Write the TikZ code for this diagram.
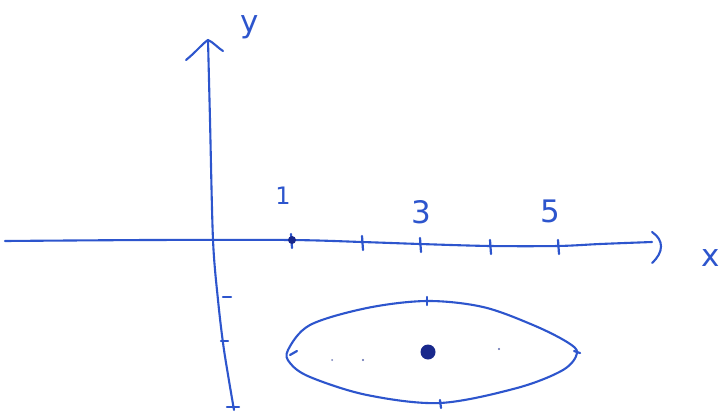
\documentclass[tikz,border=0pt]{standalone}
\usepackage{fontspec}
\setmainfont{DejaVu Sans}
\begin{document}
\begin{tikzpicture}[x=1pt,y=-1pt,
  ink/.style={draw=inkblue,line width=2.1pt,line cap=round,line join=round},
  tk/.style={draw=inkblue,line width=2.2pt,line cap=round},
  lbl/.style={text=inkblue,inner sep=0pt,font=\fontsize{31}{33}\selectfont}]
\definecolor{inkblue}{RGB}{45,85,205}
\definecolor{inkdark}{RGB}{25,40,140}
\useasboundingbox[fill=white] (0,0) rectangle (727,417);
% x-axis
\coordinate (xs) at (5,241);
\coordinate (xe) at (652,242);
\draw[ink] plot[smooth,tension=0.5] coordinates {(xs) (150,240) (291,240) (362,242) (420,244) (490,246) (558,246) (600,244) (xe)};
\draw[ink] (652,232) .. controls (664,240) and (664,252) .. (652,263);
\node[lbl] (xl) at (711,258) {x};
% y-axis
\coordinate (ys) at (208,40);
\coordinate (ye) at (234,410);
\draw[ink] plot[smooth,tension=0.5] coordinates {(ys) (210,120) (213,240) (218,300) (224,350) (ye)};
\draw[ink] (186,60) .. controls (196,52) and (202,44) .. (ys) .. controls (213,42) and (218,48) .. (223,51);
\node[lbl] (yl) at (250,27) {y};
% x ticks
\foreach \x/\y in {291/240,362/242,420/244,490/246,558/246}{
  \draw[tk] (\x,\y-6) -- (\x+1,\y+8);
}
\fill[inkdark] (292,240) circle (4);
\node[lbl,font=\fontsize{24}{26}\selectfont] (l1) at (283,196) {1};
\node[lbl] (l3) at (421,212) {3};
\node[lbl] (l5) at (550,211) {5};
% y ticks
\draw[tk] (223,297) -- (231,297);
\draw[tk] (221,341) -- (228,341);
\draw[tk] (227,407) -- (239,407);
% ellipse
\draw[ink] plot[smooth cycle,tension=0.55] coordinates {
 (288,350) (310,325) (367,308) (427,301) (483,307) (533,325) (567,342) (577,353)
 (563,370) (517,388) (440,403) (367,395) (310,377) (290,363)};
\draw[tk] (427,297) -- (427,305);
\draw[tk] (440,400) -- (441,408);
\draw[tk] (290,355) -- (297,351);
\draw[tk] (574,351) -- (580,353);
\fill[inkdark] (428,352) circle (7.5);
\fill[inkdark!60] (332,360) circle (1);
\fill[inkdark!70] (363,360) circle (1.2);
\fill[inkdark!70] (499,349) circle (1.2);
\end{tikzpicture}
\end{document}
